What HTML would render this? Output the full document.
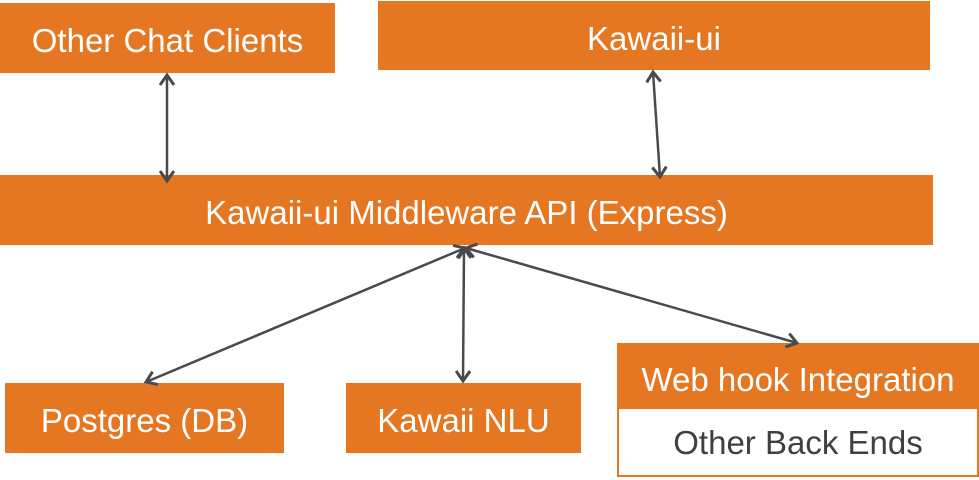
<html><body style="margin:0;width:979px;height:480px;background:#fff;position:relative;overflow:hidden;font-family:'Liberation Sans',sans-serif">
<style>.b{position:absolute;background:#e67722;color:#fff;display:flex;align-items:center;justify-content:center;font-size:33px;box-sizing:border-box;padding-top:6px}</style>
<div class="b" style="left:0;top:3px;width:335px;height:70px">Other Chat Clients</div>
<div class="b" style="left:378px;top:1px;width:552px;height:69px">Kawaii-ui</div>
<div class="b" style="left:0;top:175px;width:933px;height:70px">Kawaii-ui Middleware API (Express)</div>
<div class="b" style="left:5px;top:383px;width:279px;height:70px">Postgres (DB)</div>
<div class="b" style="left:346px;top:383px;width:235px;height:70px">Kawaii NLU</div>
<div class="b" style="left:617px;top:343px;width:362px;height:67px">Web hook Integration</div>
<div class="b" style="left:617px;top:409px;width:362px;height:68px;background:#fff;color:#404040;border:2px solid #e67722;border-top:none;padding-top:2px">Other Back Ends</div>
<svg width="979" height="480" style="position:absolute;left:0;top:0">
<defs><marker id="a" markerWidth="14" markerHeight="16" refX="11" refY="8" orient="auto-start-reverse" markerUnits="userSpaceOnUse"><path d="M1,1 L11,8 L1,15" fill="none" stroke="#4a4a4d" stroke-width="3"/></marker></defs>
<g stroke="#4a4a4d" stroke-width="2.5" marker-start="url(#a)" marker-end="url(#a)">
<line x1="167" y1="75" x2="167" y2="181"/>
<line x1="653" y1="72" x2="660" y2="177"/>
<line x1="465" y1="248" x2="146" y2="382"/>
<line x1="464" y1="248" x2="463" y2="381"/>
<line x1="466" y1="248" x2="797" y2="343"/>
</g></svg>
</body></html>
